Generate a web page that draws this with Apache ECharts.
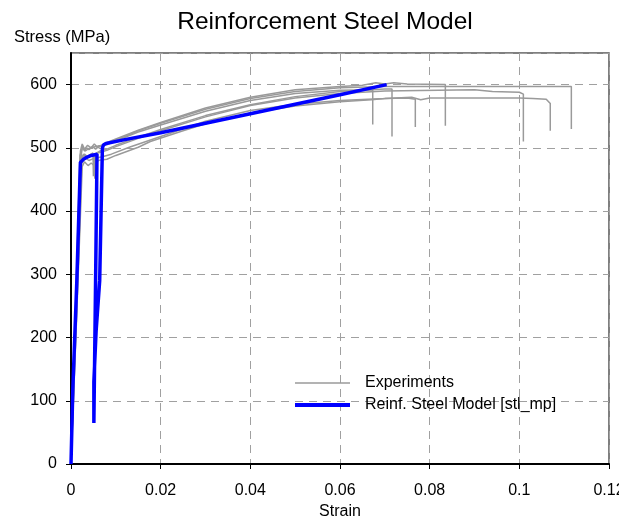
<!DOCTYPE html>
<html>
<head>
<meta charset="utf-8">
<script src="https://cdn.jsdelivr.net/npm/echarts@6/dist/echarts.min.js"></script>
<style>html,body{margin:0;padding:0;background:#fff}#c{width:619px;height:519px}</style>
</head>
<body>
<div id="c"></div>
<script>
// Experiments: [strain, stress MPa]
const exp1 = [[0,0],[0.0012,260],[0.0023,490],[0.0026,503],[0.003,495],[0.0035,500],[0.004,497],[0.0048,502],[0.0055,498],[0.0062,503],[0.008,505],[0.01,511],[0.015,525],[0.02,536],[0.03,558],[0.04,575],[0.05,586],[0.06,591],[0.0673,592],[0.0673,537]];
const exp2 = [[0,0],[0.0012,250],[0.0022,482],[0.0028,490],[0.0034,484],[0.004,488],[0.0049,492],[0.005,455],[0.0053,490],[0.0065,495],[0.008,498],[0.01,504],[0.015,517],[0.02,529],[0.03,551],[0.04,568],[0.05,581],[0.06,589],[0.07,593],[0.0716,593],[0.0716,518]];
const exp3 = [[0,0],[0.0013,240],[0.0025,470],[0.003,478],[0.0038,472],[0.0045,476],[0.0055,470],[0.006,480],[0.008,482],[0.01,488],[0.015,501],[0.0177,510],[0.025,527],[0.03,538],[0.04,555],[0.05,566],[0.06,573],[0.067,576],[0.07,578],[0.075,579],[0.0768,577],[0.0768,533]];
const exp4 = [[0,0],[0.0011,255],[0.0021,495],[0.0025,506],[0.003,498],[0.0037,504],[0.0045,500],[0.0052,506],[0.006,500],[0.0075,507],[0.01,514],[0.015,528],[0.02,540],[0.03,563],[0.04,580],[0.05,592],[0.06,597],[0.065,599],[0.068,603],[0.07,601],[0.072,603],[0.075,601],[0.0835,600],[0.0835,535]];
const exp5 = [[0,0],[0.0012,250],[0.0022,480],[0.003,490],[0.0038,485],[0.0045,489],[0.0052,486],[0.0053,451],[0.0056,488],[0.006,492],[0.008,496],[0.01,502],[0.015,515],[0.02,527],[0.03,549],[0.04,567],[0.05,579],[0.06,586],[0.07,590],[0.09,592],[0.094,589],[0.1,588],[0.1009,585],[0.1009,510]];
const exp6 = [[0,0],[0.0013,245],[0.0024,475],[0.003,485],[0.004,480],[0.005,483],[0.007,486],[0.009,490],[0.013,501],[0.02,518],[0.03,542],[0.04,559],[0.05,569],[0.06,575],[0.07,578],[0.076,580],[0.078,576],[0.08,579],[0.1,579],[0.103,578],[0.106,577],[0.1069,570],[0.1069,527]];
const exp7 = [[0,0],[0.001,245],[0.002,488],[0.0025,500],[0.0032,495],[0.004,499],[0.0055,502],[0.007,504],[0.01,512],[0.015,527],[0.02,539],[0.03,561],[0.04,578],[0.05,589],[0.06,595],[0.07,597],[0.1116,597],[0.1116,530]];
// Model
const model = [[0,0],[0.0004,117],[0.0013,290],[0.0021,477],[0.0028,482],[0.0035,485],[0.0045,488],[0.0058,490],[0.0055,300],[0.0051,65],[0.0051,130],[0.0056,210],[0.0064,290],[0.0070,500],[0.0073,505],[0.0078,507],[0.012,513],[0.02,524],[0.03,539],[0.04,554],[0.05,569],[0.06,584],[0.0704,600]];
const experiments = [exp1, exp2, exp3, exp4, exp5, exp6, exp7];
const titleText = 'Reinforcement Steel Model';
const yName = 'Stress (MPa)';
const xName = 'Strain';
const expName = 'Experiments';
const modelName = 'Reinf. Steel Model [stl_mp]';

const font = 'Liberation Sans, Arial, sans-serif';
const chart = echarts.init(document.getElementById('c'), null, {renderer: 'canvas'});
const series = experiments.map(d => ({
  name: expName, type: 'line', data: d, symbol: 'none', animation: false,
  lineStyle: {color: '#9a9a9a', width: 1.5}, itemStyle: {color: '#9a9a9a'}
}));
series.push({
  name: modelName, type: 'line', data: model, symbol: 'none', animation: false,
  lineStyle: {color: '#0000ff', width: 3.5}, itemStyle: {color: '#0000ff'}, z: 5
});
chart.setOption({
  backgroundColor: '#fff',
  animation: false,
  title: {text: titleText, left: 320, textAlign: 'center', top: 5,
    textStyle: {fontFamily: font, fontSize: 24.5, fontWeight: 'normal', color: '#000'}},
  graphic: [{type: 'text', left: 14, top: 29, style: {text: yName, font: '16.5px ' + font, fill: '#000'}}],
  legend: {
    orient: 'vertical', left: 293, top: 375, padding: 0, itemWidth: 55, itemHeight: 14, itemGap: 6,
    itemStyle: {opacity: 0},
    textStyle: {fontFamily: font, fontSize: 16, color: '#000', padding: [0,0,0,10]},
    data: [{name: expName, lineStyle: {width: 1.5}}, {name: modelName, lineStyle: {width: 4}}]
  },
  grid: {left: 71, right: 10, top: 53, bottom: 55, show: true, borderColor: '#555', borderWidth: 1.5,
    containLabel: false, outerBoundsMode: 'none'},
  xAxis: {
    type: 'value', min: 0, max: 0.12, interval: 0.02,
    name: xName, nameLocation: 'middle', nameGap: 40,
    nameTextStyle: {fontFamily: font, fontSize: 16, color: '#000'},
    axisLine: {show: true, onZero: false, lineStyle: {color: '#000', width: 2}},
    axisTick: {show: true, length: 5, lineStyle: {color: '#000'}},
    axisLabel: {fontFamily: font, fontSize: 16, color: '#000', margin: 19, formatter: v => String(+v.toFixed(2))},
    splitLine: {show: true, lineStyle: {color: '#a0a0a0', type: [8, 6], width: 1}}
  },
  yAxis: {
    type: 'value', min: 0, max: 650, interval: 100,
    axisLine: {show: true, lineStyle: {color: '#000', width: 2}},
    axisTick: {show: true, length: 5, lineStyle: {color: '#000'}},
    axisLabel: {fontFamily: font, fontSize: 16, color: '#000', margin: 14, showMaxLabel: false,
      formatter: v => v > 600 ? '' : String(v)},
    splitLine: {show: true, lineStyle: {color: '#a0a0a0', type: [8, 6], width: 1}}
  },
  series: series
});
</script>
</body>
</html>
